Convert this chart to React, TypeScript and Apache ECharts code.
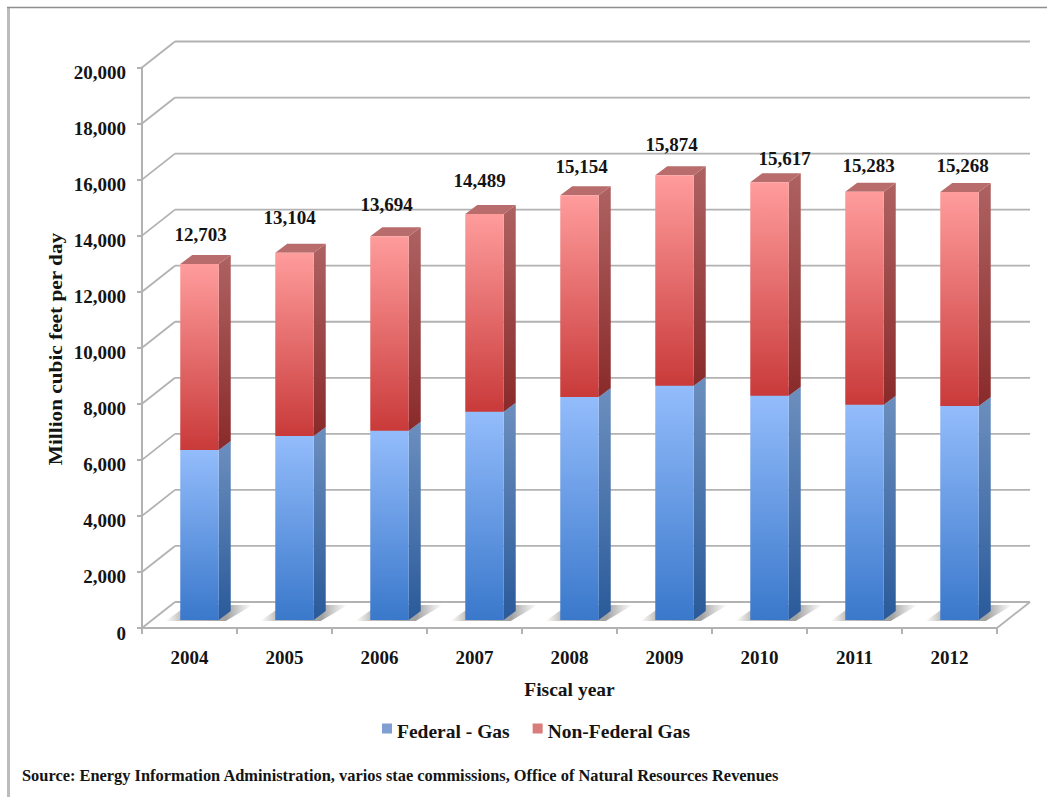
import React, { useEffect, useRef } from "react";
import * as echarts from "echarts";

const years = ["2004", "2005", "2006", "2007", "2008", "2009", "2010", "2011", "2012"];
const federalGas = [6070, 6570, 6750, 7430, 7960, 8360, 8000, 7680, 7640];
const nonFederalGas = [6633, 6534, 6944, 7059, 7194, 7514, 7617, 7603, 7628];
const totals = [12703, 13104, 13694, 14489, 15154, 15874, 15617, 15283, 15268];
const yTicks = [0, 2000, 4000, 6000, 8000, 10000, 12000, 14000, 16000, 18000, 20000];

const SOURCE = "Source: Energy Information Administration, varios stae commissions, Office of Natural Resources Revenues";
const Y_TITLE = "Million cubic feet per day";

// Pseudo-3D geometry, in pixels
const WALL_DX = 33;
const WALL_DY = -26;
const BAR_DX = 10;
const BAR_DY = -8;
const SIDE_DX = 12;
const SIDE_DY = -9;
const BAR_RATIO = 0.405;

// Hand placement of the total labels above each column
const labelShiftX = [1, -5, -3, -5, 2, -3, 15, 4, 3];
const labelLift = [29, 35, 32, 33, 29, 31, 24, 26, 27];

const SERIF = "'Liberation Serif', serif";
const INK = "#141414";
const WALL = "#b2b2b2";

const vGrad = (top: string, bottom: string) =>
  new echarts.graphic.LinearGradient(0, 0, 0, 1, [
    { offset: 0, color: top },
    { offset: 1, color: bottom },
  ]);

const blueFace = { front: ["#93bcfb", "#3a78cb"], side: ["#6c8fbe", "#2a5a9a"], top: ["#8aa8d0", "#8aa8d0"] };
const redFace = { front: ["#ff9c9c", "#c93a3a"], side: ["#ae6262", "#8a2a2a"], top: ["#b86c6c", "#b86c6c"] };

// One face-shaded column segment: front rectangle, right side and top cap.
function columnSegment(face: typeof blueFace) {
  return (_p: any, api: any) => {
    const i = api.value(0);
    const lo = api.coord([i, api.value(1)]);
    const hi = api.coord([i, api.value(2)]);
    const bw = api.size([1, 0])[0] * BAR_RATIO;
    const x0 = lo[0] + BAR_DX - bw / 2;
    const x1 = x0 + bw;
    const yLo = lo[1] + BAR_DY;
    const yHi = hi[1] + BAR_DY;
    return {
      type: "group",
      children: [
        {
          type: "polygon",
          shape: { points: [[x1, yHi], [x1 + SIDE_DX, yHi + SIDE_DY], [x1 + SIDE_DX, yLo + SIDE_DY], [x1, yLo]] },
          style: { fill: vGrad(face.side[0], face.side[1]) },
        },
        {
          type: "polygon",
          shape: { points: [[x0, yHi], [x0 + SIDE_DX, yHi + SIDE_DY], [x1 + SIDE_DX, yHi + SIDE_DY], [x1, yHi]] },
          style: { fill: face.top[0] },
        },
        {
          type: "rect",
          shape: { x: x0, y: yHi, width: bw, height: yLo - yHi },
          style: { fill: vGrad(face.front[0], face.front[1]) },
        },
      ],
    };
  };
}

export default function App() {
  const ref = useRef<HTMLDivElement>(null);

  useEffect(() => {
    const chart = echarts.init(ref.current!, undefined, { renderer: "svg" });

    const wallData = yTicks.map((v) => [0, v]);
    const floorShadowData = years.map((_, i) => [i, 0]);
    const blueData = years.map((_, i) => [i, 0, federalGas[i]]);
    const redData = years.map((_, i) => [i, federalGas[i], federalGas[i] + nonFederalGas[i]]);
    const totalData = years.map((_, i) => [i, totals[i]]);

    const option: any = {
      animation: false,
      backgroundColor: "#ffffff",
      grid: { left: 142, right: 50, top: 67.5, bottom: 169 },
      legend: {
        left: 382,
        top: 721.5,
        padding: 0,
        itemWidth: 10,
        itemHeight: 10,
        itemGap: 23,
        icon: "rect",
        selectedMode: false,
        data: [
          { name: "Federal - Gas", itemStyle: { color: "#7f9fd3" } },
          { name: "Non-Federal Gas", itemStyle: { color: "#d97c7c" } },
        ],
        formatter: (name: string) => `{t|${name}}`,
        textStyle: {
          fontFamily: SERIF,
          fontWeight: "bold",
          fontSize: 19.5,
          color: INK,
          rich: {
            t: {
              fontFamily: SERIF,
              fontWeight: "bold",
              fontSize: 19.5,
              color: INK,
              padding: [6, 0, 0, 0],
            },
          },
        },
      },
      xAxis: {
        type: "category",
        data: years,
        name: "Fiscal year",
        nameLocation: "middle",
        nameGap: 51,
        nameTextStyle: { fontFamily: SERIF, fontWeight: "bold", fontSize: 19.5, color: INK },
        axisLine: { lineStyle: { color: WALL, width: 2 } },
        axisTick: { show: true, length: 6, lineStyle: { color: WALL, width: 2 } },
        axisLabel: { margin: 20, fontFamily: SERIF, fontWeight: "bold", fontSize: 19, color: INK },
      },
      yAxis: {
        type: "value",
        min: 0,
        max: 20000,
        interval: 2000,
        axisLine: { show: true, lineStyle: { color: WALL, width: 2 } },
        axisTick: { show: true, length: 5, lineStyle: { color: WALL, width: 2 } },
        splitLine: { show: false },
        axisLabel: {
          margin: 16,
          color: INK,
          formatter: (v: number) => `{v|${v.toLocaleString("en-US")}}`,
          rich: {
            v: {
              fontFamily: SERIF,
              fontWeight: "bold",
              fontSize: 19,
              color: INK,
              padding: [10, 0, 0, 0],
            },
          },
        },
      },
      graphic: [
        { type: "line", shape: { x1: 8.5, y1: 7, x2: 8.5, y2: 797 }, style: { stroke: "#bcbcbc", lineWidth: 3 }, silent: true },
        { type: "line", shape: { x1: 7, y1: 7.5, x2: 1047, y2: 7.5 }, style: { stroke: "#8e8e8e", lineWidth: 1.5 }, silent: true },
        {
          type: "text",
          x: 55,
          y: 349,
          rotation: Math.PI / 2,
          scaleX: 1.12,
          style: {
            text: Y_TITLE,
            fill: INK,
            font: `bold 19px ${SERIF}`,
            align: "center",
            verticalAlign: "middle",
          },
          silent: true,
        },
        {
          type: "text",
          x: 22,
          y: 775,
          style: {
            text: SOURCE,
            fill: INK,
            font: `bold 16.4px ${SERIF}`,
            verticalAlign: "middle",
          },
          silent: true,
        },
      ],
      series: [
        {
          // Back wall gridlines, left wall diagonals and the right floor edge
          type: "custom",
          silent: true,
          z: 1,
          legendHoverLink: false,
          encode: { x: 0, y: 1 },
          data: wallData,
          renderItem: (p: any, api: any) => {
            const y = api.coord([0, api.value(1)])[1];
            const left = p.coordSys.x;
            const right = left + p.coordSys.width;
            const line = (x1: number, y1: number, x2: number, y2: number) => ({
              type: "line",
              shape: { x1, y1, x2, y2 },
              style: { stroke: WALL, lineWidth: 1.8 },
            });
            const children: any[] = [
              line(left, y, left + WALL_DX, y + WALL_DY),
              line(left + WALL_DX, y + WALL_DY, right + WALL_DX, y + WALL_DY),
            ];
            if (api.value(1) === 0) children.push(line(right, y, right + WALL_DX, y + WALL_DY));
            return { type: "group", children };
          },
        },
        {
          // Soft shadow cast on the floor behind each column
          type: "custom",
          silent: true,
          z: 2,
          encode: { x: 0, y: 1 },
          data: floorShadowData,
          renderItem: (_p: any, api: any) => {
            const base = api.coord([api.value(0), 0]);
            const bw = api.size([1, 0])[0] * BAR_RATIO;
            const x0 = base[0] + BAR_DX - bw / 2;
            const fy = base[1] + BAR_DY;
            return {
              type: "polygon",
              shape: {
                points: [
                  [x0 - 15, fy + 1],
                  [x0 + bw + 7, fy + 1],
                  [x0 + bw + 34, fy - 15],
                  [x0 + 8, fy - 15],
                ],
              },
              style: {
                fill: new echarts.graphic.LinearGradient(0, 0, 1, 0, [
                  { offset: 0, color: "rgba(150,140,130,0)" },
                  { offset: 0.18, color: "rgba(130,125,120,0.5)" },
                  { offset: 0.7, color: "rgba(110,110,110,0.65)" },
                  { offset: 1, color: "rgba(130,130,130,0)" },
                ]),
              },
            };
          },
        },
        {
          name: "Federal - Gas",
          type: "custom",
          z: 3,
          encode: { x: 0, y: [1, 2] },
          itemStyle: { color: "#7f9fd3" },
          data: blueData,
          renderItem: columnSegment(blueFace),
        },
        {
          name: "Non-Federal Gas",
          type: "custom",
          z: 4,
          encode: { x: 0, y: [1, 2] },
          itemStyle: { color: "#d97c7c" },
          data: redData,
          renderItem: columnSegment(redFace),
        },
        {
          // Total value printed above each stacked column
          type: "custom",
          silent: true,
          z: 5,
          encode: { x: 0, y: 1 },
          data: totalData,
          renderItem: (_p: any, api: any) => {
            const i = api.value(0);
            const pt = api.coord([i, api.value(1)]);
            return {
              type: "text",
              x: pt[0] + BAR_DX + labelShiftX[i],
              y: pt[1] + BAR_DY - labelLift[i],
              style: {
                text: api.value(1).toLocaleString("en-US"),
                fill: INK,
                font: `bold 19px ${SERIF}`,
                align: "center",
                verticalAlign: "middle",
              },
            };
          },
        },
      ],
    };

    chart.setOption(option);
    return () => chart.dispose();
  }, []);

  return (
    <div
      ref={ref}
      style={{ position: "absolute", left: 0, top: 0, width: 1047, height: 797 }}
    />
  );
}
